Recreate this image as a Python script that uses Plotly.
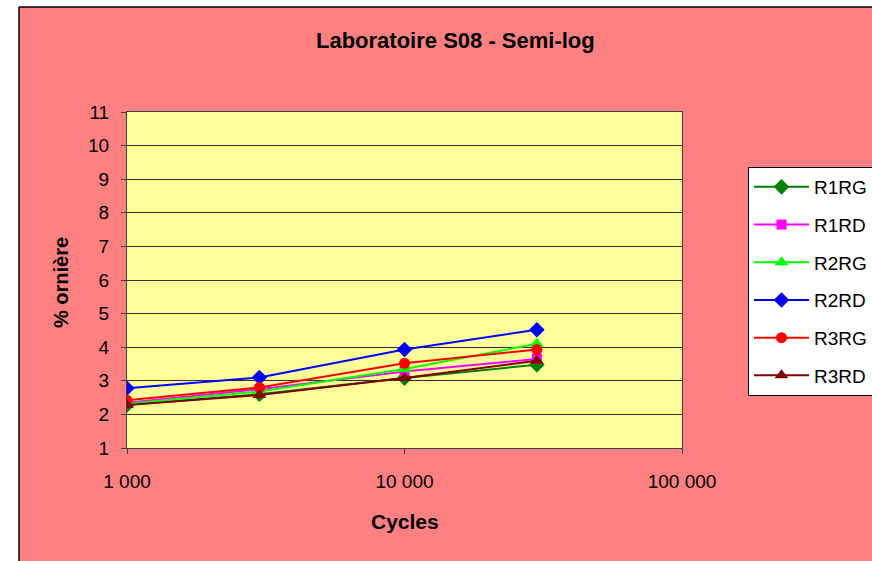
import plotly.graph_objects as go

cycles = [1000, 3000, 10000, 30000]
series_names = ["R1RG", "R1RD", "R2RG", "R2RD", "R3RG", "R3RD"]
r1rg = [2.28, 2.60, 3.08, 3.48]
r1rd = [2.35, 2.75, 3.28, 3.65]
r2rg = [2.32, 2.68, 3.35, 4.10]
r2rd = [2.78, 3.10, 3.93, 4.52]
r3rg = [2.42, 2.80, 3.52, 3.93]
r3rd = [2.28, 2.58, 3.08, 3.60]
x_tickvals = [1000, 10000, 100000]
x_ticktext = ["1 000", "10 000", "100 000"]
y_tickvals = list(range(1, 12))

values = [r1rg, r1rd, r2rg, r2rd, r3rg, r3rd]
colors = ["#008000", "#FF00FF", "#00FF00", "#0000FF", "#FF0000", "#800000"]
symbols = ["diamond", "square", "triangle-up", "diamond", "circle", "triangle-up"]
sizes = [12, 10, 12, 12, 11, 12]

FONT = "Liberation Sans, Arial, sans-serif"

fig = go.Figure()
for name, vals, c, s, sz in zip(series_names, values, colors, symbols, sizes):
    fig.add_trace(go.Scatter(
        x=cycles, y=vals, name=name, mode="lines+markers",
        line=dict(color=c, width=2),
        marker=dict(color=c, symbol=s, size=sz, line=dict(width=0)),
        legendgroup=name,
    ))

# plot area in px: left 127, right 682, top 112, bottom 448
L, R, T, B = 127, 682, 112, 448
W, H = 872, 561
def px2x(px):
    return (px - L) / (R - L)
def py2y(py):
    return (B - py) / (B - T)

fig.update_layout(
    width=W, height=H,
    margin=dict(l=L, r=W - R, t=T, b=H - B, pad=0, autoexpand=False),
    paper_bgcolor="#FF8080",
    plot_bgcolor="#FFFF99",
    font=dict(family=FONT, size=18, color="black"),
    showlegend=True,
    legend=dict(
        x=px2x(748), y=py2y(167), xanchor="left", yanchor="top",
        bgcolor="white", bordercolor="black", borderwidth=1,
        font=dict(family=FONT, size=19, color="black"),
        tracegroupgap=10, traceorder="grouped", itemwidth=55,
    ),
    xaxis=dict(
        type="log", range=[3, 5], tickvals=x_tickvals, ticktext=x_ticktext,
        showgrid=False, ticks="outside", ticklen=5, tickcolor="#404040",
        showline=True, linecolor="#404040", linewidth=1, mirror=True,
        ticklabelstandoff=11, tickfont=dict(family=FONT, size=19),
        zeroline=False,
    ),
    yaxis=dict(
        range=[1, 11], tickvals=y_tickvals, showgrid=True, gridcolor="#303030",
        gridwidth=1, ticks="outside", ticklen=5, tickcolor="#404040",
        showline=True, linecolor="#404040", linewidth=1, mirror=True,
        ticklabelstandoff=8, tickfont=dict(family=FONT, size=19),
        zeroline=False,
    ),
    shapes=[
        dict(type="rect", xref="paper", yref="paper", x0=px2x(-5), x1=px2x(W + 5),
             y0=py2y(-5), y1=py2y(7), fillcolor="white", line=dict(width=0), layer="below"),
        dict(type="rect", xref="paper", yref="paper", x0=px2x(-5), x1=px2x(19),
             y0=py2y(H + 5), y1=py2y(-5), fillcolor="white", line=dict(width=0), layer="below"),
        dict(type="line", xref="paper", yref="paper", x0=px2x(19), x1=px2x(W + 5),
             y0=py2y(7), y1=py2y(7), line=dict(color="black", width=1.5)),
        dict(type="line", xref="paper", yref="paper", x0=px2x(19), x1=px2x(19),
             y0=py2y(7), y1=py2y(H + 5), line=dict(color="black", width=1.5)),
    ],
    annotations=[
        dict(text="<b>Laboratoire S08 - Semi-log</b>", xref="paper", yref="paper",
             x=px2x(455), y=py2y(40), showarrow=False, xanchor="center", yanchor="middle",
             font=dict(family=FONT, size=22)),
        dict(text="<b>Cycles</b>", xref="paper", yref="paper",
             x=px2x(405), y=py2y(521), showarrow=False, xanchor="center", yanchor="middle",
             font=dict(family=FONT, size=21)),
        dict(text="<b>% ornière</b>", xref="paper", yref="paper", textangle=-90,
             x=px2x(61), y=py2y(283), showarrow=False, xanchor="center", yanchor="middle",
             font=dict(family=FONT, size=20)),
    ],
)

fig.write_html("out.html", config={"displayModeBar": False},
               post_script="document.body.style.margin='0';document.body.style.overflow='hidden';")
